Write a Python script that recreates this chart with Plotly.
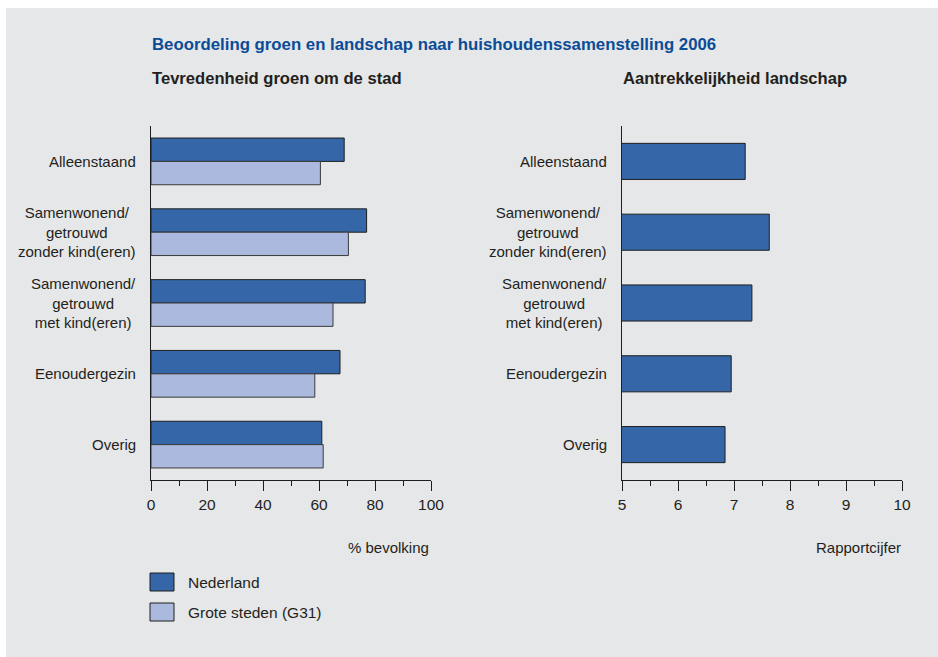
import plotly.graph_objects as go

categories = ["Alleenstaand",
              "Samenwonend/<br>getrouwd<br>zonder kind(eren)",
              "Samenwonend/<br>getrouwd<br>met kind(eren)",
              "Eenoudergezin",
              "Overig"]
nederland = [69, 77, 76.5, 67.5, 61]
grote_steden = [60.5, 70.5, 65, 58.5, 61.5]
landschap = [7.2, 7.63, 7.32, 6.95, 6.84]

series_names = ["Nederland", "Grote steden (G31)"]
title = "Beoordeling groen en landschap naar huishoudenssamenstelling 2006"
sub_left = "Tevredenheid groen om de stad"
sub_right = "Aantrekkelijkheid landschap"
xtitle_left = "% bevolking"
xtitle_right = "Rapportcijfer"

W, H = 938, 657
FONT = "Liberation Sans, Arial, sans-serif"
TXT = "#231f20"
C_NL = "#3567a8"
C_G31 = "#abb9de"
OUT = "#1e1e1e"
BG = "#e6e7e8"

def px(x):
    return x / W

def py(y):
    return 1 - y / H

fig = go.Figure()
fig.add_trace(go.Bar(y=categories, x=nederland, orientation="h", name=series_names[0],
                     marker=dict(color=C_NL, line=dict(color=OUT, width=1)),
                     xaxis="x", yaxis="y", showlegend=False))
fig.add_trace(go.Bar(y=categories, x=grote_steden, orientation="h", name=series_names[1],
                     marker=dict(color=C_G31, line=dict(color="#3a3a3a", width=1)),
                     xaxis="x", yaxis="y", showlegend=False))
fig.add_trace(go.Bar(y=categories, x=landschap, orientation="h", name=series_names[0],
                     marker=dict(color=C_NL, line=dict(color=OUT, width=1)),
                     xaxis="x2", yaxis="y2", showlegend=False, width=0.51))

ydom = [py(480), py(126)]
axis_common = dict(showline=True, linecolor=OUT, linewidth=1, ticks="outside",
                   ticklen=10, tickcolor=OUT, tickwidth=1, showgrid=False, zeroline=False,
                   tickfont=dict(family=FONT, size=15.5, color=TXT), fixedrange=True,
                   automargin=False)
yaxis_common = dict(domain=ydom, autorange="reversed", showticklabels=False, showline=True,
                    linecolor=OUT, linewidth=1, ticks="", showgrid=False, zeroline=False,
                    fixedrange=True, automargin=False)
fig.update_layout(
    width=W, height=H, autosize=False,
    margin=dict(l=0, r=0, t=0, b=0, pad=0, autoexpand=False),
    paper_bgcolor="white", plot_bgcolor="white",
    barmode="group", bargap=0.34, bargroupgap=0,
    font=dict(family=FONT, size=15, color=TXT),
    xaxis=dict(domain=[px(151), px(431)], range=[0, 100], dtick=20, anchor="y",
               minor=dict(dtick=10, ticklen=5, ticks="outside", tickcolor=OUT, showgrid=False),
               **axis_common),
    yaxis=dict(anchor="x", **yaxis_common),
    xaxis2=dict(domain=[px(622), px(902)], range=[5, 10], dtick=1, anchor="y2",
                minor=dict(dtick=0.5, ticklen=5, ticks="outside", tickcolor=OUT, showgrid=False),
                **axis_common),
    yaxis2=dict(anchor="x2", **yaxis_common),
)

shapes = [dict(type="rect", xref="paper", yref="paper", x0=px(6), x1=1.0, y0=0, y1=py(8),
               fillcolor=BG, line=dict(width=0), layer="below")]
# legend swatches
for i, col in enumerate([C_NL, C_G31]):
    y0 = 573 + i * 30
    shapes.append(dict(type="rect", xref="paper", yref="paper", x0=px(150), x1=px(174),
                       y0=py(y0 + 18), y1=py(y0), fillcolor=col,
                       line=dict(color=OUT, width=1)))
fig.update_layout(shapes=shapes)

ann = []
ann.append(dict(text="<b>" + title + "</b>", x=px(150), y=py(44), xref="paper", yref="paper",
                xanchor="left", yanchor="middle", showarrow=False,
                font=dict(family=FONT, size=16.8, color="#0b4c97")))
for t, x in [(sub_left, 150), (sub_right, 621)]:
    ann.append(dict(text="<b>" + t + "</b>", x=px(x), y=py(79), xref="paper", yref="paper",
                    xanchor="left", yanchor="middle", showarrow=False,
                    font=dict(family=FONT, size=16.6, color=TXT)))
for t, x in [(xtitle_left, 431), (xtitle_right, 903)]:
    ann.append(dict(text=t, x=px(x), y=py(547), xref="paper", yref="paper",
                    xanchor="right", yanchor="middle", showarrow=False,
                    font=dict(family=FONT, size=15, color=TXT)))
for i, name in enumerate(series_names):
    ann.append(dict(text=name, x=px(186), y=py(582 + 30 * i), xref="paper", yref="paper",
                    xanchor="left", yanchor="middle", showarrow=False,
                    font=dict(family=FONT, size=15.5, color=TXT)))
for xr, yr in [("x domain", "y"), ("x2 domain", "y2")]:
    for c in categories:
        ann.append(dict(text=c, x=0, y=c, xref=xr, yref=yr, xanchor="right", yanchor="middle",
                        xshift=-13, align="center", showarrow=False,
                        font=dict(family=FONT, size=15, color=TXT)))
fig.update_layout(annotations=ann)

post = "document.body.style.margin='0';"
fig.write_html("out.html", config={"displayModeBar": False}, post_script=post)
